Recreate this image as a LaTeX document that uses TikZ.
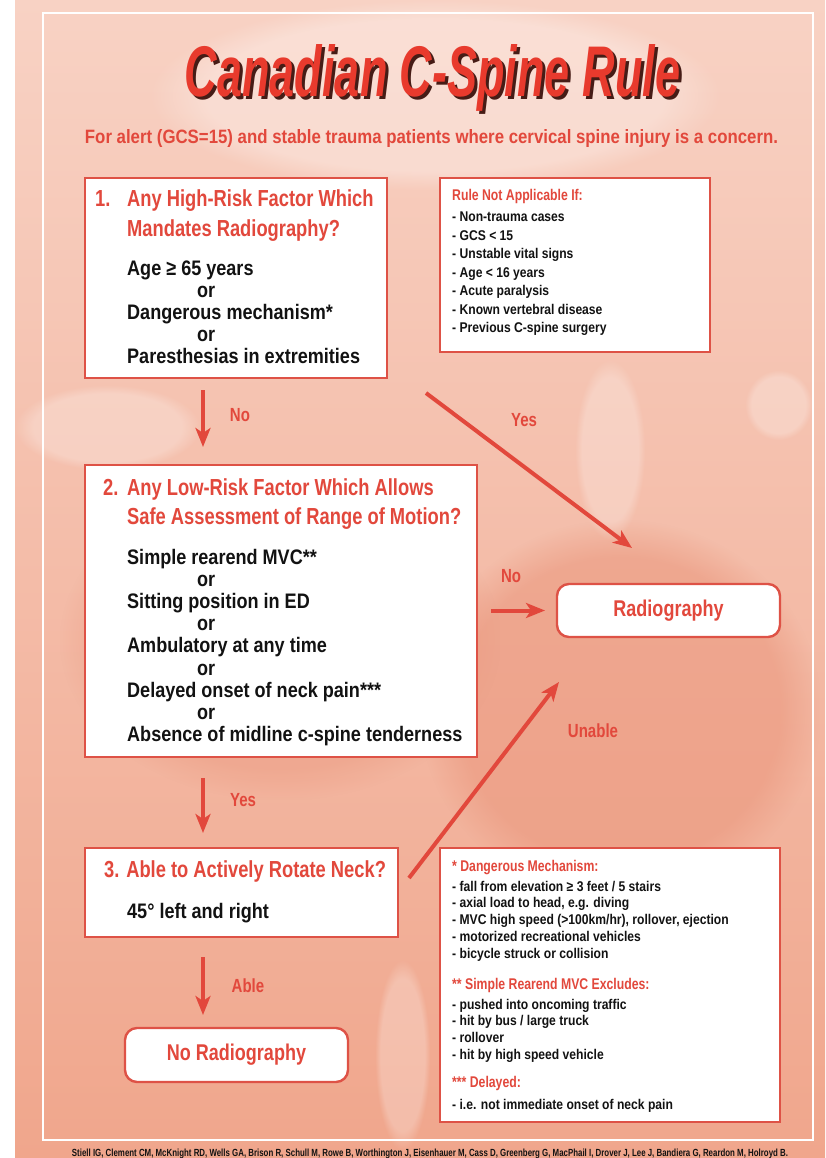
\documentclass[tikz,border=0pt]{standalone}
\usepackage{fontspec}
\setmainfont{Liberation Sans}
\newfontfamily\hf{Liberation Sans}[FakeStretch=0.79]
\newfontfamily\itemf{Liberation Sans}[FakeStretch=0.86]
\newfontfamily\titlef{Liberation Sans}[FakeStretch=0.62]
\usetikzlibrary{arrows.meta,fadings,calc}
\definecolor{salmon}{RGB}{240,166,140}
\definecolor{salmondark}{RGB}{234,150,124}
\definecolor{salmonlight}{RGB}{248,210,196}
\definecolor{boxred}{RGB}{222,82,70}
\definecolor{txtred}{RGB}{226,72,60}
\definecolor{titred}{RGB}{232,58,45}
\definecolor{titshadow}{RGB}{70,28,22}
\definecolor{ink}{RGB}{18,18,18}
\newcommand\stk[1]{\vtop{\halign{##\hfil\cr#1\crcr}}}
\newcommand\titletext{\resizebox{495pt}{52pt}{\titlef\bfseries\itshape Canadian C-Spine Rule}}
\tikzset{
  box/.style={draw=boxred, line width=2.4pt, fill=white, inner sep=0pt, outer sep=0pt, anchor=north west},
  rbox/.style={draw=boxred, line width=2.4pt, fill=white, inner sep=0pt, outer sep=0pt, rounded corners=12pt, anchor=center},
  arr/.style={draw=txtred, line width=4pt, -{Stealth[length=19pt,width=15pt,inset=5pt]}},
  lbl/.style={inner sep=0pt, text=txtred, font=\hf\bfseries\fontsize{19}{21}\selectfont},
  hd/.style={inner sep=0pt, anchor=base west, text=txtred, font=\hf\bfseries\fontsize{23.2}{29.5}\selectfont},
  it/.style={inner sep=0pt, anchor=base west, text=ink, font=\itemf\bfseries\fontsize{21}{22.2}\selectfont},
  shd/.style={inner sep=0pt, anchor=base west, text=txtred, font=\hf\bfseries\fontsize{15.5}{17}\selectfont},
  sit/.style={inner sep=0pt, anchor=base west, text=ink, font=\itemf\bfseries\fontsize{14.1}{18.5}\selectfont},
  sit2/.style={inner sep=0pt, anchor=base west, text=ink, font=\itemf\bfseries\fontsize{14.1}{16.8}\selectfont},
  bigl/.style={text=txtred, font=\hf\bfseries\fontsize{22.8}{25}\selectfont},
  glow/.style={fill=white, path fading=circle with fuzzy edge 20 percent}
}
\begin{document}
\begin{tikzpicture}[x=1pt,y=-1pt]
\useasboundingbox (0,0) rectangle (825,1158);
% background
\fill[white] (0,0) rectangle (825,1158);
\shade[top color=salmonlight, middle color=salmon!70!salmonlight, bottom color=salmon] (15,0) rectangle (825,1158);
\fill[salmondark, fill opacity=0.55, path fading=circle with fuzzy edge 20 percent] (420,520) rectangle (820,900);
\fill[salmondark, fill opacity=0.4, path fading=circle with fuzzy edge 20 percent] (60,480) rectangle (500,800);
\fill[glow, fill opacity=0.25] (15,385) rectangle (200,470);
\fill[glow, fill opacity=0.25] (575,360) rectangle (645,540);
\fill[glow, fill opacity=0.25] (745,370) rectangle (812,440);
\fill[glow, fill opacity=0.25] (375,960) rectangle (430,1150);
\fill[glow, fill opacity=0.3] (150,0) rectangle (720,190);
\draw[white, line width=2.5pt] (43,13) rectangle (813,1140);
% title (with drop shadow)
\node[inner sep=0pt, anchor=base] (title) at (432.5,97) {\makebox[0pt][l]{\hspace{3pt}\raisebox{-3pt}{\color{titshadow}\titletext}}\color{titred}\titletext};
\node[inner sep=0pt, anchor=base, text=txtred] (sub) at (431.5,144) {\resizebox{693pt}{14pt}{\hf\bfseries For alert (GCS=15) and stable trauma patients where cervical spine injury is a concern.}};
% boxes
\node[box, minimum width=302pt, minimum height=200pt] (b1) at (85,178) {};
\node[box, minimum width=270pt, minimum height=174pt] (rna) at (440,178) {};
\node[box, minimum width=392pt, minimum height=292pt] (b2) at (85,465) {};
\node[box, minimum width=313pt, minimum height=89pt] (b3) at (85,848) {};
\node[box, minimum width=340pt, minimum height=274pt] (fn) at (440,848) {};
\node[rbox, bigl, minimum width=223pt, minimum height=53pt] (rad) at (668.5,610.5) {Radiography};
\node[rbox, bigl, minimum width=223pt, minimum height=54pt] (norad) at (236.5,1055) {No Radiography};
% box 1 text
\node[hd] (b1h) at (95,207) {\stk{\makebox[32pt][l]{1.}Any High-Risk Factor Which\cr\hspace*{32pt}Mandates Radiography?}};
\node[it] (b1i) at (127,275) {\stk{Age ≥ 65 years\cr\hspace*{70pt}or\cr Dangerous mechanism*\cr\hspace*{70pt}or\cr Paresthesias in extremities}};
% rule not applicable
\node[shd] (rnah) at (452,201) {Rule Not Applicable If:};
\node[sit] (rnai) at (452,222) {\stk{- Non-trauma cases\cr - GCS < 15\cr - Unstable vital signs\cr - Age < 16 years\cr - Acute paralysis\cr - Known vertebral disease\cr - Previous C-spine surgery}};
% box 2 text
\node[hd] (b2h) at (103,495) {\stk{\makebox[24pt][l]{2.}Any Low-Risk Factor Which Allows\cr\hspace*{24pt}Safe Assessment of Range of Motion?}};
\node[it] (b2i) at (127,564) {\stk{Simple rearend MVC**\cr\hspace*{70pt}or\cr Sitting position in ED\cr\hspace*{70pt}or\cr Ambulatory at any time\cr\hspace*{70pt}or\cr Delayed onset of neck pain***\cr\hspace*{70pt}or\cr Absence of midline c-spine tenderness}};
% box 3 text
\node[hd] (b3h) at (104,877) {3. Able to Actively Rotate Neck?};
\node[it] (b3i) at (127,918) {45° left and right};
% footnotes
\node[shd] (fnh1) at (452,871) {* Dangerous Mechanism:};
\node[sit2] (fni1) at (452,891) {\stk{- fall from elevation ≥ 3 feet / 5 stairs\cr - axial load to head, e.g. diving\cr - MVC high speed (>100km/hr), rollover, ejection\cr - motorized recreational vehicles\cr - bicycle struck or collision}};
\node[shd] (fnh2) at (452,989) {** Simple Rearend MVC Excludes:};
\node[sit2] (fni2) at (452,1009) {\stk{- pushed into oncoming traffic\cr - hit by bus / large truck\cr - rollover\cr - hit by high speed vehicle}};
\node[shd] (fnh3) at (452,1087) {*** Delayed:};
\node[sit2] (fni3) at (452,1109) {- i.e. not immediate onset of neck pain};
% citation
\node[inner sep=0pt, anchor=base, text=ink] (cite) at (430,1156) {\resizebox{716pt}{7.5pt}{\bfseries Stiell IG, Clement CM, McKnight RD, Wells GA, Brison R, Schull M, Rowe B, Worthington J, Eisenhauer M, Cass D, Greenberg G, MacPhail I, Drover J, Lee J, Bandiera G, Reardon M, Holroyd B.}};
% connectors
\coordinate (colx) at (203,0);
\coordinate (yesS) at (426,393);
\coordinate (yesE) at (632,548);
\coordinate (unS) at (409,878);
\coordinate (unE) at (559,682);
\draw[arr, shorten <=12pt, shorten >=18pt] (b1.south -| colx) -- (b2.north -| colx);
\draw[arr, shorten <=21pt, shorten >=15pt] (b2.south -| colx) -- (b3.north -| colx);
\draw[arr, shorten <=20pt, shorten >=13pt] (b3.south -| colx) -- (norad.north -| colx);
\draw[arr, shorten <=14pt, shorten >=12pt] (b2.east |- rad.west) -- (rad.west);
\draw[arr] (yesS) -- (yesE);
\draw[arr] (unS) -- (unE);
% labels
\node[lbl] (l1) at (240,415) {No};
\node[lbl] (l2) at (524,420) {Yes};
\node[lbl] (l3) at (511,576) {No};
\node[lbl] (l4) at (243,800) {Yes};
\node[lbl] (l5) at (593,731) {Unable};
\node[lbl] (l6) at (248,986) {Able};
\end{tikzpicture}
\end{document}
